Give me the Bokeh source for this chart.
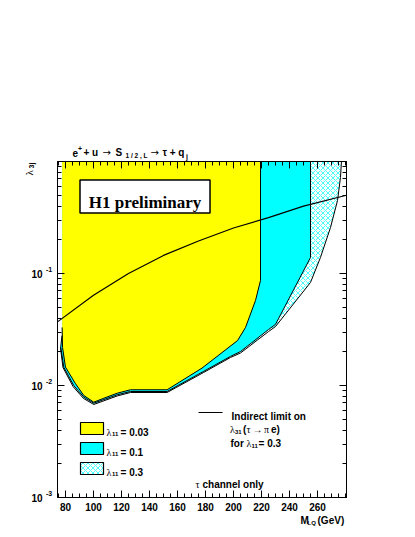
import math
from bokeh.plotting import figure
from bokeh.models import Range1d, FixedTicker, LinearAxis, LogAxis, CustomJSTickFormatter
from bokeh.core.properties import value
from bokeh.embed import file_html
from bokeh.resources import INLINE

# ---------------- data ----------------
# excluded-region boundary for lambda_11 = 0.03 (yellow)
mass_l003 = [77.6, 77.6, 77.9, 80.0, 87.1, 93.1, 100.2, 107.4, 116.9, 126.4, 152.6, 177.5, 202.9, 208.6, 215.7, 219.3, 219.3]
lam_l003 = [1.0, 0.033, 0.0219, 0.0146, 0.0104, 0.00814, 0.0071, 0.0077, 0.00853, 0.00916, 0.00916, 0.0143, 0.0252, 0.033, 0.0574, 0.0866, 1.0]
# lambda_11 = 0.1 (cyan)
mass_l01 = [77.5, 77.5, 76.6, 78.8, 85.9, 93.1, 100.2, 116.9, 126.4, 152.6, 178.8, 197.9, 205.0, 225.0, 230.0, 255.0, 255.0]
lam_l01 = [1.0, 0.0279, 0.0220, 0.01456, 0.0100, 0.00787, 0.00695, 0.00826, 0.00884, 0.00884, 0.0134, 0.0182, 0.0201, 0.0316, 0.0351, 0.139, 1.0]
# lambda_11 = 0.3 (hatched)
mass_l03 = [77.5, 77.5, 76.4, 78.2, 85.4, 92.9, 100.2, 116.9, 126.4, 152.6, 178.8, 197.9, 205.0, 225.0, 230.0, 255.0, 262.1, 269.3, 274.3, 276.4, 277.1]
lam_l03 = [1.0, 0.0279, 0.0219, 0.0145, 0.0098, 0.00766, 0.00677, 0.00806, 0.00866, 0.00866, 0.0131, 0.0178, 0.0195, 0.0303, 0.0336, 0.0832, 0.139, 0.258, 0.449, 0.72, 1.0]
# indirect limit on lambda_31 (tau -> pi e) for lambda_11 = 0.3
mass_ind = [74.3, 100, 125, 150, 175, 200, 225, 250, 280.7]
lam_ind = [0.037, 0.064, 0.10, 0.145, 0.195, 0.255, 0.315, 0.40, 0.50]

x_ticks = [80, 100, 120, 140, 160, 180, 200, 220, 240, 260]
y_ticks = [1e-3, 1e-2, 1e-1]
y_exponents = ["-3", "-2", "-1"]

legend_labels = ["= 0.03", "= 0.1", "= 0.3"]

# ---------------- layout helpers (page pixels -> data) ----------------
FX0, FY0 = 57, 161          # frame top-left on the page
X_LO, X_HI = 74.3, 280.7
PX_PER_GEV = 1.4
PX_PER_DEC = 112.0


def X(px):
    return X_LO + (px - FX0) / PX_PER_GEV


def Y(py):
    return 10 ** (0 - (py - FY0) / PX_PER_DEC)


YELLOW = "#ffff00"
CYAN = "#00ffff"
SANS = "Liberation Sans"
SERIF = "Liberation Serif"

p = figure(frame_width=289, frame_height=336,
           x_range=Range1d(X_LO, X_HI), y_range=Range1d(1e-3, 1.0),
           y_axis_type="log", output_backend="svg", toolbar_location=None,
           min_border_left=57, min_border_right=69, min_border_top=161, min_border_bottom=40,
           background_fill_color="white", border_fill_color="white")
p.xgrid.visible = False
p.ygrid.visible = False
p.outline_line_color = "black"
p.outline_line_width = 1

# ---------------- filled regions ----------------
p.patch(mass_l03, lam_l03, fill_color="white", hatch_pattern="x", hatch_color=CYAN,
        hatch_scale=5, hatch_weight=0.7, line_alpha=0)
p.patch(mass_l01, lam_l01, fill_color=CYAN, line_alpha=0)
p.patch(mass_l003, lam_l003, fill_color=YELLOW, line_alpha=0)

p.line(mass_l03[2:], lam_l03[2:], line_color="black", line_width=1)
p.line(mass_l01[1:], lam_l01[1:], line_color="black", line_width=1)
p.line(mass_l003[1:], lam_l003[1:], line_color="black", line_width=1)

p.line(mass_ind, lam_ind, line_color="black", line_width=1.2)

# ---------------- axes ----------------
x_minor = list(range(75, 281, 5))
y_minor = [k * 10.0 ** e for e in (-3, -2, -1) for k in range(2, 10)]

xa = p.xaxis[0]
xa.ticker = FixedTicker(ticks=x_ticks, minor_ticks=x_minor)
ya = p.yaxis[0]
ya.ticker = FixedTicker(ticks=y_ticks, minor_ticks=y_minor)
ya.formatter = CustomJSTickFormatter(code="return '10'")

for ax in (xa, ya):
    ax.major_tick_in = 7
    ax.major_tick_out = 0
    ax.minor_tick_in = 4
    ax.minor_tick_out = 0
    ax.axis_line_color = "black"
    ax.major_label_text_font = SANS
    ax.major_label_text_font_style = "bold"
    ax.major_label_text_font_size = "10px"
    ax.major_label_text_color = "black"
xa.major_label_standoff = 5
ya.major_label_standoff = 15

top = LinearAxis(ticker=FixedTicker(ticks=x_ticks, minor_ticks=x_minor),
                 formatter=CustomJSTickFormatter(code="return ''"))
right = LogAxis(ticker=FixedTicker(ticks=y_ticks, minor_ticks=y_minor),
                formatter=CustomJSTickFormatter(code="return ''"))
for ax in (top, right):
    ax.major_tick_in = 7
    ax.major_tick_out = 0
    ax.minor_tick_in = 4
    ax.minor_tick_out = 0
    ax.major_label_text_font_size = "0px"
    ax.major_label_standoff = 0
p.add_layout(top, "above")
p.add_layout(right, "right")


def lab(px, py, text, size=10, font=SANS, style="bold", align="left", baseline="alphabetic", angle=0.0):
    p.text(x=[X(px)], y=[Y(py)], text=[text], text_font=value(font), text_font_style=style,
           text_font_size=f"{size}px", text_align=align, text_baseline=baseline,
           text_color="black", angle=angle, level="overlay")


# y exponents
for t, e in zip(y_ticks, y_exponents):
    py = FY0 + (0 - math.log10(t)) * PX_PER_DEC
    lab(45.5, py - 4, e, size=7)

# title
lab(72, 152, "e", 10)
lab(77.5, 148, "+", 7)
lab(83, 152, "+ u", 10)
lab(102, 152, "\u2192", 10, font="DejaVu Sans", style="normal")
lab(115, 152, "S", 10)
lab(125, 155, "1 / 2 , L", 6.5)
lab(150, 152, "\u2192", 10, font="DejaVu Sans", style="normal")
lab(162, 152, "\u03c4 + q", 10)
lab(185.5, 155.5, "j", 7)

# y-axis label (rotated)
lab(28.5, 175, "\u03bb", 11, font=SERIF, style="normal", angle=math.pi / 2)
lab(31, 168, "3j", 7, angle=math.pi / 2)

# x-axis label
lab(300, 520, "M", 10)
lab(307, 522.5, "LQ", 6)
lab(317, 520, "(GeV)", 10)

# H1 preliminary box
p.quad(left=[X(79.5)], right=[X(209.5)], top=[Y(179.5)], bottom=[Y(212.5)],
       fill_color="white", line_color="black", line_width=1.5)
lab(144.5, 202, "H1 preliminary", 17, font=SERIF, style="bold", align="center")

# legend boxes
box_tops = [422, 442, 462]
for i, (bt, txt) in enumerate(zip(box_tops, legend_labels)):
    kw = dict(left=[X(80)], right=[X(103)], top=[Y(bt)], bottom=[Y(bt + 12)], line_color="black", line_width=1.2)
    if i == 0:
        p.quad(fill_color=YELLOW, **kw)
    elif i == 1:
        p.quad(fill_color=CYAN, **kw)
    else:
        p.quad(fill_color="white", hatch_pattern="x", hatch_color=CYAN, hatch_scale=5, hatch_weight=0.7, **kw)
    cy = bt + 6
    lab(106, cy + 3.5, "\u03bb", 10, font=SERIF, style="normal")
    lab(111.5, cy + 5.5, "11", 6)
    lab(120, cy + 3.5, txt, 10)

# indirect-limit legend
p.segment(x0=[X(198)], y0=[Y(412)], x1=[X(222)], y1=[Y(412)], line_color="black", line_width=1.2)
lab(231, 415.5, "Indirect limit on", 10)
lab(229.5, 429, "\u03bb", 10, font=SERIF, style="normal")
lab(234.5, 431, "31", 6)
lab(242.5, 429, "(", 10)
lab(246, 429, "\u03c4", 10, font=SERIF, style="normal")
lab(252, 429, "\u2192", 10, font=SERIF, style="normal")
lab(263.5, 429, "\u03c0", 10, font=SERIF, style="normal")
lab(270.5, 429, "e)", 10)
lab(230, 443, "for", 10)
lab(246, 443, "\u03bb", 10, font=SERIF, style="normal")
lab(251, 445, "11", 6)
lab(258, 443, "= 0.3", 10)
lab(195, 484, "\u03c4", 10, font=SERIF, style="normal")
lab(202, 484, "channel only", 10)

open("out.html", "w").write(file_html(p, INLINE))
